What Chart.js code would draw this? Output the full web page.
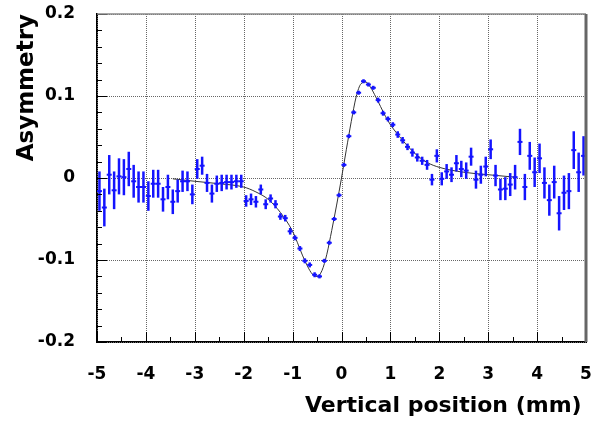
<!DOCTYPE html>
<html>
<head>
<meta charset="utf-8">
<script src="https://cdn.jsdelivr.net/npm/chart.js@4.4.0/dist/chart.umd.min.js"></script>
<style>
  html, body { margin: 0; padding: 0; background: #fff; }
</style>
</head>
<body>
<canvas id="mycanvas" width="592" height="422"></canvas>
<script>
// bin centres (mm)
var positions = [
  -4.95, -4.85, -4.75, -4.65, -4.55, -4.45, -4.35, -4.25, -4.15, -4.05,
  -3.95, -3.85, -3.75, -3.65, -3.55, -3.45, -3.35, -3.25, -3.15, -3.05,
  -2.95, -2.85, -2.75, -2.65, -2.55, -2.45, -2.35, -2.25, -2.15, -2.05,
  -1.95, -1.85, -1.75, -1.65, -1.55, -1.45, -1.35, -1.25, -1.15, -1.05,
  -0.95, -0.85, -0.75, -0.65, -0.55, -0.45, -0.35, -0.25, -0.15, -0.05,
  0.05, 0.15, 0.25, 0.35, 0.45, 0.55, 0.65, 0.75, 0.85, 0.95,
  1.05, 1.15, 1.25, 1.35, 1.45, 1.55, 1.65, 1.75, 1.85, 1.95,
  2.05, 2.15, 2.25, 2.35, 2.45, 2.55, 2.65, 2.75, 2.85, 2.95,
  3.05, 3.15, 3.25, 3.35, 3.45, 3.55, 3.65, 3.75, 3.85, 3.95,
  4.05, 4.15, 4.25, 4.35, 4.45, 4.55, 4.65, 4.75, 4.85, 4.95
];
// measured asymmetry per bin
var asymmetry = [
  -0.016, -0.036, 0.004, -0.015, 0.002, 0.001, 0.011, -0.004, -0.011, -0.011,
  -0.022, -0.007, -0.007, -0.026, -0.011, -0.029, -0.016, -0.004, -0.004, -0.020,
  0.011, 0.015, -0.006, -0.019, -0.007, -0.006, -0.005, -0.005, -0.004, -0.004,
  -0.028, -0.026, -0.029, -0.014, -0.032, -0.025, -0.032, -0.047, -0.049, -0.065,
  -0.073, -0.086, -0.101, -0.106, -0.118, -0.120, -0.101, -0.079, -0.050, -0.021,
  0.016, 0.051, 0.080, 0.104, 0.118, 0.114, 0.110, 0.095, 0.079, 0.072,
  0.065, 0.053, 0.046, 0.038, 0.031, 0.025, 0.021, 0.016, -0.002, 0.027,
  -0.001, 0.008, 0.004, 0.018, 0.011, 0.009, 0.026, -0.002, 0.004, 0.014,
  0.035, 0.003, -0.014, -0.013, -0.008, 0.001, 0.044, -0.011, 0.027, 0.007,
  0.024, -0.006, -0.027, -0.005, -0.043, -0.018, -0.016, 0.034, 0.007, 0.027
];
// statistical error per bin
var errors = [
  0.024, 0.023, 0.024, 0.023, 0.022, 0.022, 0.021, 0.020, 0.019, 0.019,
  0.018, 0.017, 0.017, 0.015, 0.015, 0.015, 0.014, 0.013, 0.012, 0.012,
  0.012, 0.011, 0.011, 0.011, 0.010, 0.010, 0.009, 0.009, 0.008, 0.008,
  0.007, 0.007, 0.007, 0.006, 0.006, 0.005, 0.005, 0.004, 0.004, 0.004,
  0.003, 0.003, 0.003, 0.003, 0.003, 0.002, 0.002, 0.002, 0.002, 0.002,
  0.002, 0.002, 0.002, 0.002, 0.002, 0.002, 0.002, 0.003, 0.003, 0.003,
  0.003, 0.004, 0.004, 0.004, 0.005, 0.005, 0.005, 0.006, 0.007, 0.008,
  0.008, 0.009, 0.009, 0.010, 0.010, 0.010, 0.011, 0.011, 0.011, 0.012,
  0.012, 0.013, 0.013, 0.014, 0.014, 0.015, 0.016, 0.016, 0.017, 0.018,
  0.018, 0.019, 0.019, 0.020, 0.021, 0.021, 0.022, 0.023, 0.024, 0.024
];
// fitted curve
var fitX = [-3.45, -3.0, -2.5, -2.0, -1.75, -1.5, -1.25, -1.0, -0.9, -0.8, -0.7, -0.6, -0.5, -0.4, -0.3, -0.2, -0.1, 0.0,
  0.1, 0.2, 0.3, 0.4, 0.5, 0.6, 0.7, 0.8, 0.9, 1.0, 1.25, 1.5, 1.75, 2.0, 2.5, 3.0, 3.55];
var fitY = [-0.001, -0.004, -0.007, -0.011, -0.017, -0.026, -0.042, -0.065, -0.079, -0.094, -0.107, -0.117, -0.120, -0.113, -0.093, -0.064, -0.033, 0.000,
  0.035, 0.069, 0.099, 0.115, 0.117, 0.110, 0.099, 0.087, 0.075, 0.065, 0.046, 0.030, 0.019, 0.013, 0.007, 0.004, 0.001];

var xTicks = [-5, -4, -3, -2, -1, 0, 1, 2, 3, 4, 5];
var yTicks = [-0.2, -0.1, 0, 0.1, 0.2];

var dataColor = 'rgb(20,20,255)';
var labelFont = { family: 'DejaVu Sans', weight: 'bold', size: 17 };
var xTitleFont = { family: 'DejaVu Sans', weight: 'bold', size: 22 };
var yTitleFont = { family: 'DejaVu Sans', weight: 'bold', size: 23 };

var points = [];
for (var i = 0; i < positions.length; i++) {
  points.push({ x: positions[i], y: asymmetry[i] });
}
var fitPoints = [];
for (var j = 0; j < fitX.length; j++) {
  fitPoints.push({ x: fitX[j], y: fitY[j] });
}

// dotted grid at the labelled ticks
var gridPlugin = {
  id: 'dottedGrid',
  beforeDatasetsDraw: function (chart) {
    var ctx = chart.ctx, a = chart.chartArea, xs = chart.scales.x, ys = chart.scales.y;
    ctx.save();
    ctx.strokeStyle = '#666';
    ctx.lineWidth = 1;
    ctx.setLineDash([1, 1]);
    ctx.beginPath();
    xTicks.forEach(function (v) {
      var px = Math.round(xs.getPixelForValue(v)) + 0.5;
      ctx.moveTo(px, a.top);
      ctx.lineTo(px, a.bottom);
    });
    yTicks.forEach(function (v) {
      var py = Math.round(ys.getPixelForValue(v)) + 0.5;
      ctx.moveTo(a.left, py);
      ctx.lineTo(a.right, py);
    });
    ctx.stroke();
    ctx.restore();
  }
};

// vertical error bars, drawn through the chart scales
var errorBarPlugin = {
  id: 'errorBars',
  afterDatasetsDraw: function (chart) {
    var ctx = chart.ctx, xs = chart.scales.x, ys = chart.scales.y;
    ctx.save();
    ctx.strokeStyle = dataColor;
    ctx.lineWidth = 2.5;
    for (var i = 0; i < positions.length; i++) {
      var px = xs.getPixelForValue(positions[i]);
      var mid = ys.getPixelForValue(asymmetry[i]);
      var top = Math.min(ys.getPixelForValue(asymmetry[i] + errors[i]), mid - 2);
      var bot = Math.max(ys.getPixelForValue(asymmetry[i] - errors[i]), mid + 2);
      ctx.beginPath();
      ctx.moveTo(px, top);
      ctx.lineTo(px, bot);
      ctx.stroke();
    }
    ctx.restore();
  }
};

// inward tick marks and the top / right frame
var framePlugin = {
  id: 'frame',
  afterDraw: function (chart) {
    var ctx = chart.ctx, a = chart.chartArea, xs = chart.scales.x, ys = chart.scales.y;
    ctx.save();
    ctx.strokeStyle = '#000';
    ctx.lineWidth = 1;
    ctx.beginPath();
    for (var k = -10; k <= 10; k++) {
      var px = Math.round(xs.getPixelForValue(k / 2)) + 0.5;
      var len = (k % 2 === 0) ? 10 : 5;
      ctx.moveTo(px, a.bottom);
      ctx.lineTo(px, a.bottom - len);
    }
    for (var m = -20; m <= 20; m += 2) {
      var py = Math.round(ys.getPixelForValue(m / 100)) + 0.5;
      var l2 = (m % 10 === 0) ? 10 : 5;
      ctx.moveTo(a.left, py);
      ctx.lineTo(a.left + l2, py);
    }
    ctx.stroke();

    ctx.strokeStyle = '#888';
    ctx.lineWidth = 1.5;
    ctx.beginPath();
    ctx.moveTo(a.left, a.top);
    ctx.lineTo(a.right, a.top);
    ctx.stroke();

    ctx.strokeStyle = '#666';
    ctx.lineWidth = 3;
    ctx.beginPath();
    ctx.moveTo(a.right, a.top);
    ctx.lineTo(a.right, a.bottom);
    ctx.stroke();
    ctx.restore();
  }
};

var ctx = document.getElementById('mycanvas');
var chart = new Chart(ctx, {
  type: 'scatter',
  data: {
    datasets: [
      {
        label: 'data',
        data: points,
        pointStyle: 'line',
        pointRadius: 2.5,
        pointBorderWidth: 2,
        borderColor: dataColor,
        backgroundColor: dataColor
      },
      {
        label: 'fit',
        data: fitPoints,
        showLine: true,
        borderColor: '#333',
        borderWidth: 1,
        pointRadius: 0,
        cubicInterpolationMode: 'monotone'
      }
    ]
  },
  options: {
    responsive: false,
    animation: false,
    events: [],
    layout: { padding: { left: 0, right: 4, top: 14, bottom: 0 } },
    plugins: { legend: { display: false }, tooltip: { enabled: false } },
    scales: {
      x: {
        type: 'linear',
        min: -5,
        max: 5,
        afterBuildTicks: function (scale) {
          scale.ticks = xTicks.map(function (v) { return { value: v }; });
        },
        afterFit: function (scale) {
          scale.height = 80;
          scale.paddingLeft = 0;
          scale.paddingRight = 0;
        },
        ticks: { color: '#000', font: labelFont, padding: 14, maxRotation: 0, autoSkip: false },
        grid: { display: false },
        border: { display: true, color: '#000', width: 2 },
        title: {
          display: true,
          text: 'Vertical position (mm)\u2009',
          align: 'end',
          color: '#000',
          font: xTitleFont,
          padding: { top: 0, bottom: 3 }
        }
      },
      y: {
        type: 'linear',
        min: -0.2,
        max: 0.2,
        afterBuildTicks: function (scale) {
          scale.ticks = yTicks.map(function (v) { return { value: v }; });
        },
        afterFit: function (scale) {
          scale.width = 97;
          scale.paddingTop = 0;
          scale.paddingBottom = 0;
        },
        ticks: { color: '#000', font: labelFont, padding: 14 },
        grid: { display: false },
        border: { display: true, color: '#000', width: 2 },
        title: {
          display: true,
          text: 'Asymmetry',
          align: 'end',
          color: '#000',
          font: yTitleFont,
          padding: { top: 13, bottom: 0 }
        }
      }
    }
  },
  plugins: [gridPlugin, errorBarPlugin, framePlugin]
});
</script>
</body>
</html>
